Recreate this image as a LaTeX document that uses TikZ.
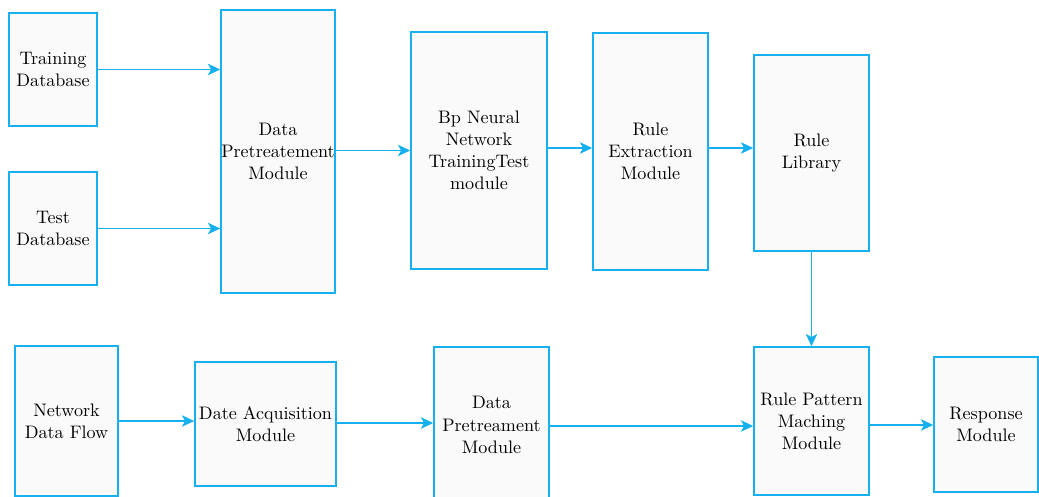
\documentclass[tikz,border=0pt]{standalone}
\usetikzlibrary{arrows.meta}
\definecolor{flowblue}{RGB}{22,176,238}
\definecolor{boxfill}{RGB}{250,250,250}
\tikzset{
  modbox/.style={draw=flowblue, fill=boxfill, line width=0.9pt, align=center,
    inner sep=0pt, font=\fontsize{10.3}{12.6}\selectfont},
  flow/.style={draw=flowblue, line width=1pt, -{Stealth[length=7pt,width=6.5pt,inset=1.8pt]}}
}
\begin{document}
\begin{tikzpicture}[x=0.02cm, y=-0.02cm]
    \useasboundingbox (0,0) rectangle (1039,497);
    \clip (0,0) rectangle (1039,497);
    % upper row
    \node[modbox, minimum width=1.76cm, minimum height=2.26cm] (train) at (53,69.5) {Training\\Database};
    \node[modbox, minimum width=1.76cm, minimum height=2.26cm] (test) at (53,228.5) {Test\\Database};
    \node[modbox, minimum width=2.28cm, minimum height=5.66cm] (dpm) at (278,151.5) {Data\\Pretreatement\\Module};
    \node[modbox, minimum width=2.72cm, minimum height=4.74cm] (bp) at (479,150.5) {Bp Neural\\Network\\TrainingTest\\module};
    \node[modbox, minimum width=2.30cm, minimum height=4.74cm] (rex) at (650.5,151.5) {Rule\\Extraction\\Module};
    \node[modbox, minimum width=2.30cm, minimum height=3.92cm] (rlib) at (811.5,153) {Rule\\Library};
    % lower row
    \node[modbox, minimum width=2.06cm, minimum height=3.00cm] (ndf) at (66.5,421) {Network\\Data Flow};
    \node[modbox, minimum width=2.82cm, minimum height=2.48cm] (dacq) at (265.5,424) {Date Acquisition\\Module};
    \node[modbox, minimum width=2.30cm, minimum height=3.12cm] (dpr) at (491.5,425) {Data\\Pretreament\\Module};
    \node[modbox, minimum width=2.30cm, minimum height=2.96cm] (rpm) at (811.5,421) {Rule Pattern\\Maching\\Module};
    \node[modbox, minimum width=2.08cm, minimum height=2.70cm] (resp) at (986,424.5) {Response\\Module};
    % connectors
    \draw[flow] (train.east) -- (dpm.west |- train.east);
    \draw[flow] (test.east) -- (dpm.west |- test.east);
    \draw[flow] (dpm.east |- bp.west) -- (bp.west);
    \draw[flow] ([yshift=0.05cm]bp.east) -- ([yshift=0.05cm]bp.east -| rex.west);
    \draw[flow] ([yshift=0.07cm]rex.east) -- ([yshift=0.07cm]rex.east -| rlib.west);
    \draw[flow] (rlib) -- (rpm);
    \draw[flow] (ndf.east) -- (ndf.east -| dacq.west);
    \draw[flow] ([yshift=0.02cm]dacq.east) -- ([yshift=0.02cm]dacq.east -| dpr.west);
    \draw[flow] ([yshift=-0.02cm]dpr.east) -- ([yshift=-0.02cm]dpr.east -| rpm.west);
    \draw[flow] (rpm.east |- dpr.east) -- (resp.west |- dpr.east);
\end{tikzpicture}
\end{document}
